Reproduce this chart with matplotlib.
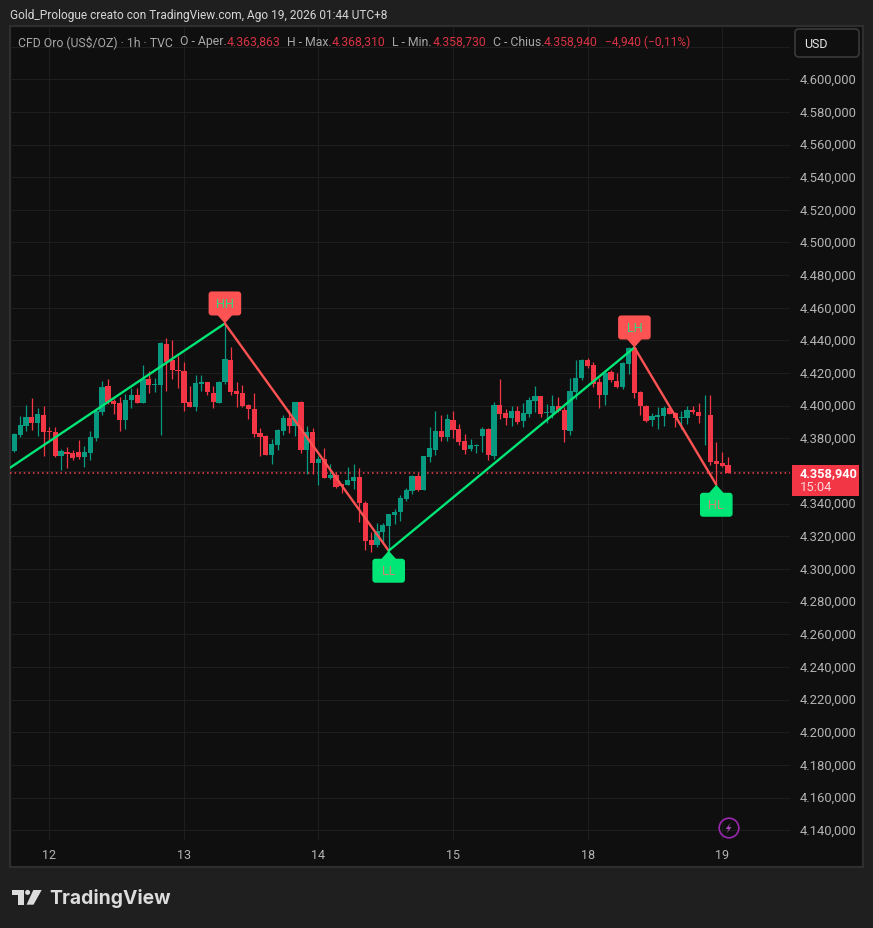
import matplotlib
matplotlib.use("Agg")
import matplotlib.pyplot as plt
from matplotlib.patches import Rectangle, FancyBboxPatch, Polygon, Circle
from matplotlib.transforms import Affine2D, IdentityTransform

W, H = 873, 929

opens = [4372.0, 4381.8, 4387.3, 4392.9, 4389.2, 4394.1, 4384.3, 4383.7, 4369.0, 4371.4,
         4370.8, 4371.4, 4368.4, 4370.8, 4380.0, 4395.9, 4411.8, 4402.7, 4401.4, 4391.0,
         4403.3, 4406.3, 4401.4, 4416.1, 4412.5, 4412.5, 4437.6, 4427.8, 4422.2, 4421.0,
         4402.0, 4399.0, 4413.1, 4414.3, 4407.6, 4401.4, 4414.3, 4427.8, 4408.8, 4407.6,
         4400.2, 4397.8, 4383.1, 4381.2, 4369.6, 4375.7, 4384.3, 4392.2, 4387.3, 4402.0,
         4372.7, 4383.7, 4364.7, 4367.1, 4355.5, 4357.3, 4351.8, 4351.6, 4354.1, 4356.5,
         4340.6, 4318.0, 4314.9, 4322.9, 4326.5, 4333.3, 4335.1, 4343.1, 4348.0, 4357.1,
         4348.6, 4368.8, 4373.1, 4384.7, 4381.0, 4391.4, 4385.9, 4378.6, 4373.7, 4375.5,
         4381.6, 4385.9, 4369.4, 4400.6, 4395.7, 4392.7, 4396.9, 4390.4, 4394.7, 4402.7,
         4405.7, 4395.5, 4395.3, 4399.6, 4397.1, 4384.3, 4408.2, 4416.7, 4427.8, 4424.7,
         4414.3, 4406.3, 4420.4, 4414.9, 4411.2, 4425.3, 4435.1, 4408.2, 4399.8, 4391.4,
         4393.3, 4393.9, 4398.8, 4395.7, 4392.7, 4392.7, 4397.6, 4396.3, 4394.1, 4394.5,
         4366.3, 4365.1, 4363.863]
highs = [4383.1, 4393.5, 4400.2, 4404.5, 4398.4, 4399.6, 4386.7, 4386.7, 4373.3, 4374.5,
         4372.7, 4378.8, 4375.1, 4384.3, 4397.8, 4414.9, 4416.1, 4403.9, 4405.1, 4406.9,
         4410.6, 4410.6, 4424.7, 4421.0, 4417.3, 4438.8, 4441.8, 4440.0, 4430.2, 4427.1,
         4411.8, 4418.6, 4418.6, 4414.3, 4411.8, 4414.9, 4450.4, 4435.7, 4414.3, 4412.5,
         4400.8, 4407.6, 4386.1, 4381.8, 4379.4, 4385.5, 4394.1, 4397.1, 4402.0, 4402.7,
         4387.3, 4386.1, 4369.0, 4373.9, 4364.1, 4359.2, 4352.2, 4362.7, 4364.5, 4362.0,
         4341.8, 4322.9, 4328.4, 4328.4, 4333.9, 4336.9, 4345.5, 4349.8, 4357.8, 4359.0,
         4369.4, 4387.1, 4396.9, 4394.5, 4395.1, 4396.9, 4389.0, 4382.9, 4379.8, 4376.7,
         4387.1, 4386.5, 4402.5, 4416.5, 4398.2, 4400.0, 4400.0, 4401.4, 4405.1, 4411.8,
         4405.7, 4400.8, 4406.3, 4405.1, 4399.0, 4416.7, 4427.8, 4428.4, 4429.0, 4426.5,
         4416.7, 4421.0, 4421.6, 4419.8, 4426.5, 4435.7, 4435.7, 4408.8, 4400.2, 4395.7,
         4399.4, 4400.0, 4400.0, 4396.3, 4396.9, 4400.0, 4400.0, 4401.8, 4406.7, 4406.7,
         4378.0, 4371.8, 4368.310]
lows = [4371.4, 4380.6, 4384.3, 4384.9, 4381.2, 4369.0, 4378.8, 4368.9, 4360.4, 4361.6,
        4366.5, 4367.1, 4362.2, 4366.5, 4378.2, 4394.1, 4400.8, 4394.7, 4384.3, 4385.5,
        4398.4, 4401.4, 4401.4, 4407.6, 4408.2, 4381.8, 4408.8, 4416.1, 4410.6, 4396.5,
        4399.0, 4396.5, 4408.8, 4406.3, 4398.4, 4401.4, 4413.1, 4406.3, 4399.0, 4399.0,
        4391.6, 4380.6, 4369.0, 4369.6, 4364.1, 4372.7, 4381.8, 4383.1, 4381.2, 4370.8,
        4358.0, 4358.0, 4351.2, 4355.5, 4354.9, 4349.4, 4346.7, 4351.6, 4349.2, 4329.0,
        4311.8, 4310.6, 4313.7, 4316.1, 4311.2, 4327.8, 4329.6, 4341.8, 4346.1, 4348.0,
        4348.6, 4365.7, 4370.0, 4378.6, 4378.6, 4380.4, 4376.1, 4370.6, 4372.4, 4371.2,
        4371.8, 4366.9, 4367.6, 4392.0, 4388.4, 4387.8, 4389.0, 4386.7, 4392.9, 4395.9,
        4392.9, 4389.2, 4392.2, 4395.9, 4377.6, 4381.8, 4403.9, 4415.5, 4422.9, 4411.2,
        4398.4, 4400.2, 4414.3, 4410.6, 4410.0, 4419.2, 4404.5, 4394.1, 4390.2, 4387.8,
        4385.9, 4387.8, 4395.1, 4387.1, 4385.9, 4389.0, 4395.1, 4389.6, 4376.1, 4363.9,
        4351.6, 4362.7, 4358.730]
closes = [4382.4, 4388.0, 4392.9, 4389.2, 4394.7, 4383.7, 4383.9, 4369.0, 4372.0, 4370.2,
          4367.8, 4368.4, 4371.4, 4380.6, 4396.5, 4411.2, 4402.0, 4400.8, 4391.0, 4403.3,
          4406.3, 4401.4, 4416.1, 4412.5, 4413.1, 4438.2, 4427.1, 4421.6, 4421.0, 4401.4,
          4399.0, 4413.7, 4414.3, 4408.2, 4402.0, 4414.3, 4428.4, 4408.2, 4406.9, 4399.6,
          4397.8, 4382.4, 4380.6, 4369.6, 4376.3, 4384.9, 4392.2, 4387.3, 4402.0, 4372.7,
          4383.7, 4364.7, 4367.1, 4355.5, 4357.3, 4350.0, 4350.8, 4354.7, 4356.5, 4340.6,
          4317.3, 4314.9, 4323.3, 4327.1, 4333.9, 4335.1, 4343.7, 4348.6, 4357.1, 4348.6,
          4369.4, 4374.3, 4384.7, 4381.0, 4392.0, 4385.3, 4378.0, 4373.1, 4376.1, 4376.1,
          4385.9, 4370.0, 4400.6, 4395.1, 4392.7, 4396.9, 4390.2, 4395.3, 4403.3, 4405.7,
          4394.7, 4395.9, 4399.6, 4396.5, 4384.9, 4408.8, 4417.3, 4427.8, 4424.1, 4413.1,
          4406.3, 4419.8, 4415.5, 4411.2, 4425.9, 4435.1, 4407.6, 4399.6, 4390.8, 4393.9,
          4394.5, 4398.8, 4395.1, 4392.7, 4393.3, 4397.6, 4396.3, 4393.9, 4394.5, 4365.7,
          4364.5, 4363.3, 4358.940]

day_bars = [6, 29, 52, 75, 98, 121]
day_labels = ["12", "13", "14", "15", "18", "19"]
# 4.360,000 sits under the last price tag in the reference
price_ticks = [v for v in range(4140, 4601, 20) if v != 4360]
grid_prices = list(range(4140, 4621, 20))

zigzag_x = [-0.73, 36, 64, 106, 120]
zigzag_y = [4362.0, 4450.4, 4311.2, 4435.7, 4351.6]
pivot_names = ["HH", "LL", "LH", "HL"]

GREEN = "#089981"
RED = "#f23645"
ZIG_GREEN = "#00e676"
ZIG_RED = "#ff5252"
FONT = "Roboto"


def fmt_price(v):
    s = f"{v:,.3f}"
    return s.replace(",", "#").replace(".", ",").replace("#", ".")


plt.rcParams["font.family"] = FONT
fig = plt.figure(figsize=(W / 100, H / 100), dpi=100, facecolor="#1f1f1f")
to_px = Affine2D().scale(1 / W, -1 / H).translate(0, 1) + fig.transFigure

# pane behind the axes
fig.add_artist(Rectangle((10, 27), 853, 841, transform=to_px, facecolor="#0f0f0f",
                         edgecolor="#2e2e2e", linewidth=1.6, zorder=-1))

ax = fig.add_axes([10 / W, (H - 841) / H, 780 / W, (841 - 28) / H])
ax.patch.set_alpha(0)
ax.set_xlim(-0.735, 132.6)
ax.set_ylim(4134.0, 4632.0)
for s in ax.spines.values():
    s.set_visible(False)

ax.hlines(grid_prices, -0.735, 132.6, color="#1e1e1e", linewidth=0.8, zorder=1)
ax.vlines(day_bars, 4134.0, 4632.0, color="#1e1e1e", linewidth=0.8, zorder=1)

ax.yaxis.tick_right()
ax.set_yticks(price_ticks)
ax.set_yticklabels([fmt_price(v) for v in price_ticks], fontsize=9.4, color="#b4b4b4")
ax.tick_params(axis="y", length=0, pad=7.2)
for lab in ax.get_yticklabels():
    lab.set_transform(lab.get_transform() + Affine2D().translate(0, 1.5))
ax.set_xticks(day_bars)
ax.set_xticklabels(day_labels, fontsize=9, color="#b4b4b4")
ax.tick_params(axis="x", length=0, pad=5.6)

xs = list(range(len(opens)))
colors = [GREEN if c >= o else RED for o, c in zip(opens, closes)]
ax.axhline(closes[-1], color="#f7404f", linewidth=1.1, linestyle=(0, (1, 2)), zorder=2)
ax.vlines(xs, lows, highs, colors=colors, linewidth=0.9, zorder=3)
ax.bar(xs, [abs(c - o) for o, c in zip(opens, closes)], bottom=[min(o, c) for o, c in zip(opens, closes)],
       width=0.89, color=colors, linewidth=0, zorder=3)

for i in range(len(zigzag_x) - 1):
    col = ZIG_GREEN if zigzag_y[i + 1] > zigzag_y[i] else ZIG_RED
    ax.plot(zigzag_x[i:i + 2], zigzag_y[i:i + 2], color=col, linewidth=1.7, zorder=4,
            solid_capstyle="round")

# pivot labels hang off the pivot positions
for bar, price, name in zip(zigzag_x[1:], zigzag_y[1:], pivot_names):
    tx, ty = ax.transData.transform((bar, price))
    if name in ("HH", "LH"):
        face, txt, d = ZIG_RED, "#35d57f", 1
    else:
        face, txt, d = ZIG_GREEN, "#c98a72", -1
    box_y = ty + 8 * d if d > 0 else ty - 32
    ax.add_patch(FancyBboxPatch((tx - 14.3, box_y + 2), 28.6, 20, boxstyle="round,pad=2,rounding_size=3",
                                transform=IdentityTransform(), facecolor=face, edgecolor="none",
                                zorder=6, clip_on=False))
    ax.add_patch(Polygon([(tx, ty), (tx - 8, ty + 9 * d), (tx + 8, ty + 9 * d)], closed=True,
                         transform=IdentityTransform(), facecolor=face, edgecolor="none",
                         zorder=6, clip_on=False))
    ax.annotate(name, xy=(bar, price), xytext=(0, 20 * d * 0.72), textcoords="offset points",
                ha="center", va="center", fontsize=9.2, color=txt, zorder=7)


def px_text(x, y, s, **kw):
    kw.setdefault("fontsize", 8.85)
    kw.setdefault("va", "center")
    return fig.text(x, y, s, transform=to_px, **kw)


px_text(10, 15, "Gold_Prologue creato con TradingView.com, Ago 19, 2026 01:44 UTC+8", color="#d6d6d6", fontsize=8.6)

GREY = "#a8a8a8"
VAL = "#d83344"
px_text(18, 42, "CFD Oro (US$/OZ) · 1h · TVC", color=GREY)
for x, s in [(180, "O - Aper."), (287, "H - Max."), (392, "L - Min."), (493, "C - Chius.")]:
    px_text(x, 42, s, color=GREY)
for x, v in [(227, opens[-1]), (332, highs[-1]), (433, lows[-1]), (544, closes[-1])]:
    px_text(x, 42, fmt_price(v), color=VAL)
px_text(605, 42, "−4,940 (−0,11%)", color=VAL, fontsize=8.65)

# currency button
fig.add_artist(FancyBboxPatch((797, 32), 60, 24, boxstyle="round,pad=2,rounding_size=4", transform=to_px,
                              facecolor="#0f0f0f", edgecolor="#3a3a3a", linewidth=1.2, zorder=3))
px_text(804, 44.5, "USD", color="#e4e4e4", fontsize=8.9, zorder=4)

# last price tag
fig.add_artist(Rectangle((792, 466), 66.5, 31, transform=to_px, facecolor=RED, edgecolor="none", zorder=3))
px_text(800, 474, fmt_price(closes[-1]), color="white", fontsize=9.2, fontweight="bold", zorder=4)
px_text(800, 488, "15:04", color="#fbd5d9", fontsize=9.4, zorder=4)

# lightning badge
fig.add_artist(Circle((729, 829), 9.8, transform=to_px, facecolor="none", edgecolor="#9c27b0", linewidth=1.2, zorder=4))
bolt = [(730.8, 823.8), (725.6, 830), (728.6, 830), (726.6, 834.4), (731.5, 828), (728.6, 828)]
fig.add_artist(Polygon(bolt, closed=True, transform=to_px, facecolor="#ab47bc", edgecolor="none", zorder=4))

# logo
LOGO = "#dcdcdc"
fig.add_artist(Polygon([(12.3, 891), (23.7, 891), (23.7, 905.7), (17.7, 905.7), (17.7, 896), (12.3, 896)],
                       closed=True, transform=to_px, facecolor=LOGO, edgecolor="none"))
fig.add_artist(Circle((27.6, 893.4), 2.5, transform=to_px, facecolor=LOGO, edgecolor="none"))
fig.add_artist(Polygon([(33.3, 891), (41.7, 891), (33.5, 905.7), (26.6, 905.7)], closed=True, transform=to_px,
                       facecolor=LOGO, edgecolor="none"))
px_text(49.5, 898.5, "TradingView", color=LOGO, fontsize=13.9, fontweight="bold", family="Inter")

fig.savefig("out.png", dpi=100, facecolor=fig.get_facecolor())
